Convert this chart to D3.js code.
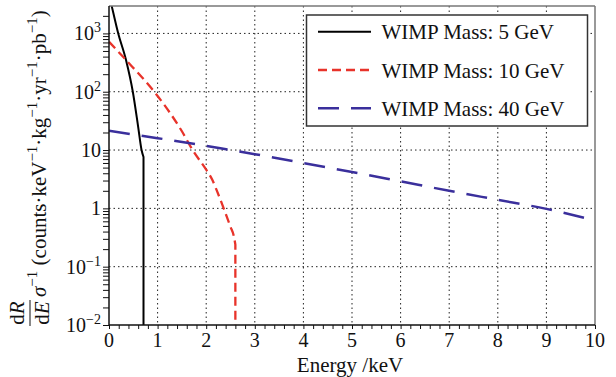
<!DOCTYPE html>
<html><head><meta charset="utf-8">
<script src="https://cdn.jsdelivr.net/npm/d3@7"></script>
<style>body{margin:0;background:#fff}svg{display:block}</style>
</head><body><svg id="c" width="616" height="377"></svg>
<script>
// Data
const seriesNames = ["WIMP Mass: 5 GeV", "WIMP Mass: 10 GeV", "WIMP Mass: 40 GeV"];
const energy5 = [0, 0.055, 0.19, 0.35, 0.49, 0.6, 0.67, 0.71, 0.71];
const rate5 = [4500, 2950, 1000, 350, 100, 25, 10, 7.6, 0.01];
const energy10 = [0, 0.35, 0.93, 1.25, 1.5, 1.72, 2.0, 2.12, 2.2, 2.36, 2.5, 2.57, 2.6, 2.6];
const rate10 = [718, 350, 100, 44, 21, 10, 4.6, 3.16, 2.2, 1.0, 0.48, 0.33, 0.24, 0.01];
const energy40 = [0, 1, 2, 2.5, 3, 4, 5, 6, 7, 8, 9, 10];
const rate40 = [21.4, 16.0, 11.8, 10.0, 8.5, 6.0, 4.2, 2.9, 2.0, 1.4, 0.98, 0.62];
const xTicks = [0,1,2,3,4,5,6,7,8,9,10];
const yTicks = [0.01, 0.1, 1, 10, 100, 1000];
const yTickLabels = [["10","−2"],["10","−1"],["1",""],["10",""],["10","2"],["10","3"]];

const colors = ["#000000", "#e8332a", "#3a2f9c"];
const dashes = [null, "9,5", "21,12"];
const widths = [2, 2.3, 2.5];
const FONT = "'Liberation Serif', 'Times New Roman', serif";

const svg = d3.select("#c");
const L = 109, R = 595, T = 6, B = 325;
const x = d3.scaleLinear().domain([0, 10]).range([L, R]);
const y = d3.scaleLog().domain([0.01, Math.pow(10, 3.47)]).range([B, T]);

svg.append("defs").append("clipPath").attr("id","clip")
  .append("rect").attr("x", L).attr("y", T).attr("width", R-L).attr("height", B-T);

// grid
const g = svg.append("g");
g.selectAll("line.vg").data(xTicks.slice(1,-1)).enter().append("line")
  .attr("x1", d=>x(d)).attr("x2", d=>x(d)).attr("y1", T).attr("y2", B)
  .attr("stroke","#222").attr("stroke-width",1).attr("stroke-dasharray","1.5,3");
g.selectAll("line.hg").data(yTicks.slice(1)).enter().append("line")
  .attr("y1", d=>y(d)).attr("y2", d=>y(d)).attr("x1", L).attr("x2", R)
  .attr("stroke","#222").attr("stroke-width",1).attr("stroke-dasharray","1.5,3");

// axes
const minorX = d3.range(0, 10.001, 0.2);
const xAxis = d3.axisBottom(x).tickValues(minorX).tickSize(4).tickFormat("");
svg.append("g").attr("transform",`translate(0,${B})`).call(xAxis)
  .call(a=>a.select(".domain").remove())
  .call(a=>a.selectAll("line").attr("stroke","#111"));
const minorY = [];
for (let e=-2; e<=3; e++) for (let m=1; m<=9; m++) { const v=m*Math.pow(10,e); if (v<=Math.pow(10,3.47)) minorY.push(v); }
const yAxis = d3.axisLeft(y).tickValues(minorY).tickSize(6).tickFormat("");
svg.append("g").attr("transform",`translate(${L},0)`).call(yAxis)
  .call(a=>a.select(".domain").remove())
  .call(a=>a.selectAll("line").attr("stroke","#111"));

function txt(sel){ return sel.style("font-family", FONT).attr("fill","#111"); }

// x labels
svg.append("g").selectAll("text").data(xTicks).enter().append("text")
  .attr("x", d=>x(d)).attr("y", 347).attr("text-anchor","middle")
  .attr("font-size", 20).call(txt).text(d=>d);
// y labels
const yl = svg.append("g").selectAll("text").data(yTicks).enter().append("text")
  .attr("x", 101).attr("y", d=>y(d)+7).attr("text-anchor","end").attr("font-size",20).call(txt);
yl.each(function(d,i){
  const t = d3.select(this);
  t.append("tspan").text(yTickLabels[i][0]);
  if (yTickLabels[i][1]) t.append("tspan").attr("dy",-8).attr("font-size",14).text(yTickLabels[i][1]);
});

// lines: smooth part + vertical drop at the end for the first two
function pathFor(pts, vertical){
  const gen = d3.line().x(d=>x(d[0])).y(d=>y(d[1])).curve(d3.curveMonotoneX);
  if (!vertical) return gen(pts);
  const main = pts.slice(0,-1), last = pts[pts.length-1];
  return gen(main) + "L" + x(last[0]) + "," + y(last[1]);
}
const sets = [[energy5, rate5],[energy10, rate10],[energy40, rate40]];
const lg = svg.append("g").attr("clip-path","url(#clip)");
sets.forEach((s,i)=>{
  const pts = s[0].map((e,j)=>[e,s[1][j]]);
  lg.append("path").attr("d", pathFor(pts, i<2))
    .attr("fill","none").attr("stroke",colors[i]).attr("stroke-width",widths[i])
    .attr("stroke-dasharray",dashes[i]);
});

// frame
svg.append("line").attr("x1",L).attr("x2",R).attr("y1",T).attr("y2",T).attr("stroke","#777").attr("stroke-width",1.5);
svg.append("line").attr("x1",R).attr("x2",R).attr("y1",T).attr("y2",B).attr("stroke","#777").attr("stroke-width",1.5);
svg.append("line").attr("x1",L).attr("x2",R).attr("y1",B).attr("y2",B).attr("stroke","#111").attr("stroke-width",1.5);
svg.append("line").attr("x1",L).attr("x2",L).attr("y1",T).attr("y2",B).attr("stroke","#111").attr("stroke-width",1.5);

// legend
const leg = svg.append("g");
leg.append("rect").attr("x",306.5).attr("y",15).attr("width",281).attr("height",111)
  .attr("fill","#fff").attr("stroke","#333").attr("stroke-width",1.5);
const rowY = [31.7, 70, 108.3];
seriesNames.forEach((n,i)=>{
  leg.append("line").attr("x1",318).attr("x2",371).attr("y1",rowY[i]).attr("y2",rowY[i])
    .attr("stroke",colors[i]).attr("stroke-width",widths[i]).attr("stroke-dasharray",dashes[i]);
  leg.append("text").attr("x",381.5).attr("y",rowY[i]+7.5).attr("font-size",21).call(txt).text(n);
});

// x title
svg.append("text").attr("x",350).attr("y",372).attr("text-anchor","middle").attr("font-size",21).call(txt).text("Energy /keV");

// y title (rotated)
const yt = svg.append("g").attr("transform","rotate(-90)");
const fx = -313;
yt.append("text").attr("x",fx).attr("y",24).attr("text-anchor","middle").attr("font-size",21).call(txt)
  .call(t=>{t.append("tspan").text("d"); t.append("tspan").style("font-style","italic").text("R");});
yt.append("line").attr("x1",fx-13).attr("x2",fx+13).attr("y1",30).attr("y2",30).attr("stroke","#111").attr("stroke-width",1);
yt.append("text").attr("x",fx).attr("y",49).attr("text-anchor","middle").attr("font-size",21).call(txt)
  .call(t=>{t.append("tspan").text("d"); t.append("tspan").style("font-style","italic").text("E");});
const mt = yt.append("text").attr("x",-297).attr("y",46).attr("font-size",21).call(txt);
mt.append("tspan").style("font-style","italic").text("σ");
mt.append("tspan").attr("dy",-9).attr("font-size",15).text("−1");
mt.append("tspan").attr("dy",9).text(" (counts·keV");
mt.append("tspan").attr("dy",-9).attr("font-size",15).text("−1");
mt.append("tspan").attr("dy",9).text("·kg");
mt.append("tspan").attr("dy",-9).attr("font-size",15).text("−1");
mt.append("tspan").attr("dy",9).text("·yr");
mt.append("tspan").attr("dy",-9).attr("font-size",15).text("−1");
mt.append("tspan").attr("dy",9).text("·pb");
mt.append("tspan").attr("dy",-9).attr("font-size",15).text("−1");
mt.append("tspan").attr("dy",9).text(")");
</script></body></html>
